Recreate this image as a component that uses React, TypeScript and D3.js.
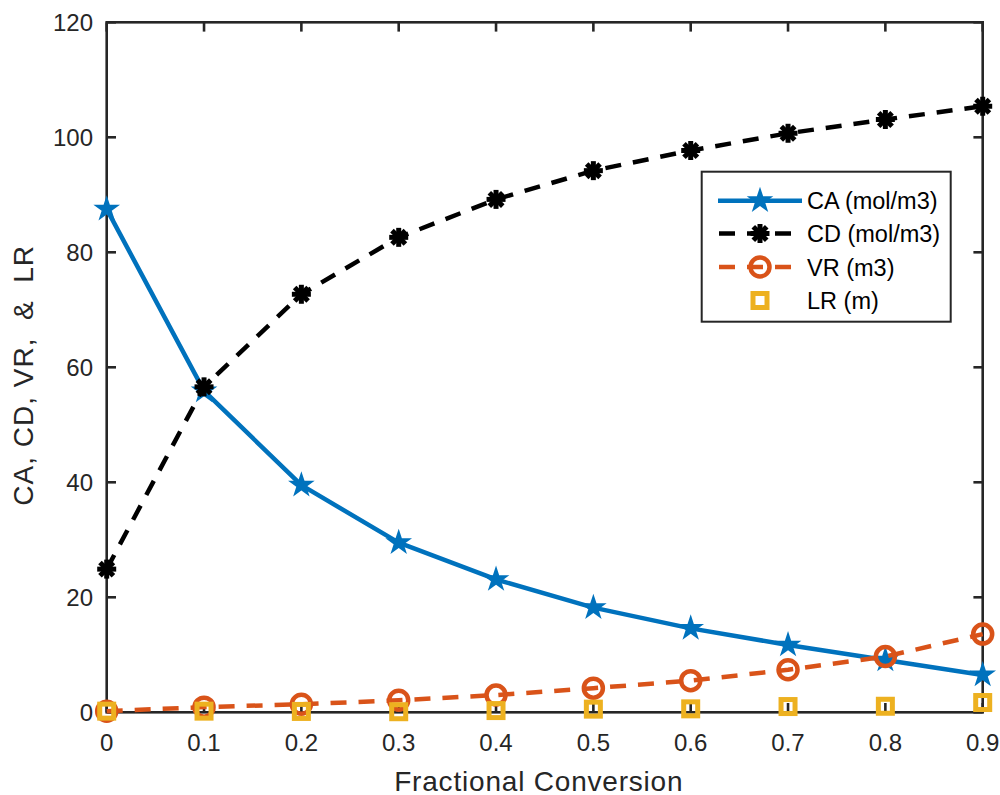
import React from "react";
import * as d3 from "d3";

const conversion = [0, 0.1, 0.2, 0.3, 0.4, 0.5, 0.6, 0.7, 0.8, 0.9];
const caValues = [87.5, 55.9, 39.5, 29.5, 23.1, 18.2, 14.6, 11.7, 9.1, 6.5];
const cdValues = [24.9, 56.6, 72.7, 82.6, 89.2, 94.2, 97.7, 100.7, 103.1, 105.4];
const vrValues = [0.2, 0.9, 1.4, 2.1, 3.0, 4.2, 5.5, 7.4, 9.7, 13.6];
const lrValues = [0.2, 0.2, 0.15, 0.1, 0.3, 0.55, 0.6, 1.0, 1.05, 1.7];
const xTicks = [0, 0.1, 0.2, 0.3, 0.4, 0.5, 0.6, 0.7, 0.8, 0.9];
const yTicks = [0, 20, 40, 60, 80, 100, 120];
const legendLabels = ["CA (mol/m3)", "CD (mol/m3)", "VR (m3)", "LR (m)"];

const W = 1000;
const H = 795;
const M = { left: 106.7, right: 982.7, top: 22.3, bottom: 712.3 };
const FONT = "'Liberation Sans', Arial, Helvetica, sans-serif";
const AX = "#262626";
const BLUE = "#0072BD";
const ORANGE = "#D95319";
const YELLOW = "#EDB120";

function Star({ x, y }: { x: number; y: number }) {
  const R = 14;
  const path = d3.symbol().type(d3.symbolStar).size((R * R) / 0.8908130915292852)();
  return <path d={path || ""} transform={`translate(${x},${y})`} fill={BLUE} />;
}

function Asterisk({ x, y }: { x: number; y: number }) {
  const r = 9.5;
  const d = r * Math.SQRT1_2;
  return (
    <g transform={`translate(${x},${y})`} stroke="#000" strokeWidth={5}>
      <line x1={-r} y1={0} x2={r} y2={0} />
      <line x1={0} y1={-r} x2={0} y2={r} />
      <line x1={-d} y1={-d} x2={d} y2={d} />
      <line x1={-d} y1={d} x2={d} y2={-d} />
    </g>
  );
}

function Ring({ x, y }: { x: number; y: number }) {
  return <circle cx={x} cy={y} r={9.5} fill="none" stroke={ORANGE} strokeWidth={4.5} />;
}

function Square({ x, y }: { x: number; y: number }) {
  const s = 14;
  return (
    <rect x={x - s / 2} y={y - s / 2} width={s} height={s} fill="none" stroke={YELLOW} strokeWidth={5} />
  );
}

export default function App() {
  const x = d3.scaleLinear().domain([0, 0.9]).range([M.left, M.right]);
  const y = d3.scaleLinear().domain([0, 120]).range([M.bottom, M.top]);
  const line = d3
    .line<number>()
    .x((_, i) => x(conversion[i]))
    .y((v) => y(v));

  const tickLen = 9.3;
  const legX = 701.7;
  const legY = 171.7;
  const legW = 249;
  const legH = 150;
  const rowYs = [200.7, 233.5, 267, 300.5];
  const segX1 = 718;
  const segX2 = 802;
  const segMid = 760;
  const textX = 807;

  return (
    <svg width={W} height={H} style={{ position: "absolute", left: 0, top: 0, background: "#fff" }}>
      <rect x={0} y={0} width={W} height={H} fill="#fff" />
      {/* axes box */}
      <rect
        x={M.left}
        y={M.top}
        width={M.right - M.left}
        height={M.bottom - M.top}
        fill="none"
        stroke={AX}
        strokeWidth={2.6}
      />
      {xTicks.map((t) => (
        <g key={"xt" + t}>
          <line x1={x(t)} x2={x(t)} y1={M.bottom} y2={M.bottom - tickLen} stroke={AX} strokeWidth={2.6} />
          <line x1={x(t)} x2={x(t)} y1={M.top} y2={M.top + tickLen} stroke={AX} strokeWidth={2.6} />
          <text
            x={x(t)}
            y={751}
            textAnchor="middle"
            fontFamily={FONT}
            fontSize={24}
            fill={AX}
          >
            {t === 0 ? "0" : String(t)}
          </text>
        </g>
      ))}
      {yTicks.map((t) => (
        <g key={"yt" + t}>
          <line x1={M.left} x2={M.left + tickLen} y1={y(t)} y2={y(t)} stroke={AX} strokeWidth={2.6} />
          <line x1={M.right} x2={M.right - tickLen} y1={y(t)} y2={y(t)} stroke={AX} strokeWidth={2.6} />
          <text
            x={93}
            y={y(t) + 8.5}
            textAnchor="end"
            fontFamily={FONT}
            fontSize={24}
            fill={AX}
          >
            {t}
          </text>
        </g>
      ))}
      <text
        x={538.8}
        y={790.5}
        textAnchor="middle"
        fontFamily={FONT}
        fontSize={28}
        fill={AX}
        letterSpacing={0.8}
      >
        Fractional Conversion
      </text>
      <text
        transform={`translate(33,${(M.top + M.bottom) / 2 + 8}) rotate(-90)`}
        textAnchor="middle"
        fontFamily={FONT}
        fontSize={28}
        fill={AX}
        letterSpacing={1}
        style={{ whiteSpace: "pre" }}
      >
        {"CA, CD, VR,  &  LR"}
      </text>

      {/* series */}
      <path d={line(caValues) || ""} fill="none" stroke={BLUE} strokeWidth={4.5} strokeLinejoin="round" />
      {caValues.map((v, i) => (
        <Star key={"ca" + i} x={x(conversion[i])} y={y(v)} />
      ))}
      <path
        d={line(cdValues) || ""}
        fill="none"
        stroke="#000"
        strokeWidth={4.5}
        strokeDasharray="16 12"
      />
      {cdValues.map((v, i) => (
        <Asterisk key={"cd" + i} x={x(conversion[i])} y={y(v)} />
      ))}
      <path
        d={line(vrValues) || ""}
        fill="none"
        stroke={ORANGE}
        strokeWidth={4.5}
        strokeDasharray="16 12"
      />
      {vrValues.map((v, i) => (
        <Ring key={"vr" + i} x={x(conversion[i])} y={y(v)} />
      ))}
      {lrValues.map((v, i) => (
        <Square key={"lr" + i} x={x(conversion[i])} y={y(v)} />
      ))}

      {/* legend */}
      <rect x={legX} y={legY} width={legW} height={legH} fill="#fff" stroke={AX} strokeWidth={2} />
      <line x1={segX1} x2={segX2} y1={rowYs[0]} y2={rowYs[0]} stroke={BLUE} strokeWidth={4.5} />
      <Star x={segMid} y={rowYs[0]} />
      <line
        x1={segX1}
        x2={segX2}
        y1={rowYs[1]}
        y2={rowYs[1]}
        stroke="#000"
        strokeWidth={4.5}
        strokeDasharray="16 12"
        strokeDashoffset={-1}
      />
      <Asterisk x={segMid} y={rowYs[1]} />
      <line
        x1={segX1}
        x2={segX2}
        y1={rowYs[2]}
        y2={rowYs[2]}
        stroke={ORANGE}
        strokeWidth={4.5}
        strokeDasharray="16 12"
        strokeDashoffset={-1}
      />
      <Ring x={segMid} y={rowYs[2]} />
      <Square x={segMid} y={rowYs[3]} />
      {legendLabels.map((l, i) => (
        <text
          key={l}
          x={textX}
          y={rowYs[i] + 8.5}
          fontFamily={FONT}
          fontSize={23.5}
          fill="#000"
        >
          {l}
        </text>
      ))}
    </svg>
  );
}
